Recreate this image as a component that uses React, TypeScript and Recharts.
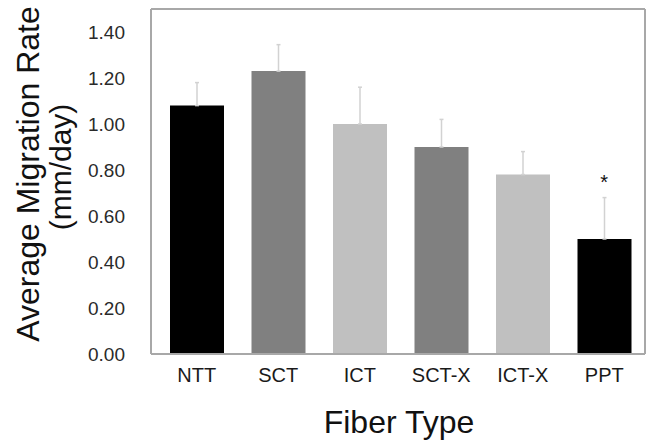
import React from "react";
import {
  BarChart,
  Bar,
  XAxis,
  YAxis,
  Cell,
  ErrorBar,
  ReferenceDot,
  Label,
} from "recharts";

const fiberTypes = ["NTT", "SCT", "ICT", "SCT-X", "ICT-X", "PPT"];
const migrationRates = [1.08, 1.23, 1.0, 0.9, 0.78, 0.5];
const upperErrors = [0.1, 0.115, 0.16, 0.12, 0.1, 0.18];
const barColors = ["#000000", "#808080", "#c0c0c0", "#808080", "#c0c0c0", "#000000"];
const yTicks = [0, 0.2, 0.4, 0.6, 0.8, 1.0, 1.2, 1.4];
const significant = ["PPT"];

const data = fiberTypes.map((type, i) => ({
  type,
  rate: migrationRates[i],
  err: [0, upperErrors[i]],
}));

const font = "'Liberation Sans', Arial, Helvetica, sans-serif";
const frame = "#a8a8a8";

const YTitle = () => (
  <g fontFamily={font} fill="#111">
    <text x={39} y={174} fontSize={32} textAnchor="middle" transform="rotate(-90, 39, 174)">
      Average Migration Rate
    </text>
    <text x={71} y={167} fontSize={30} textAnchor="middle" transform="rotate(-90, 71, 167)">
      (mm/day)
    </text>
  </g>
);

const XTitle = () => (
  <text x={399} y={433} fontSize={32} textAnchor="middle" fontFamily={font} fill="#111">
    Fiber Type
  </text>
);

export default function App() {
  return (
    <div style={{ position: "absolute", left: 0, top: 0, width: 650, height: 444, background: "#fff" }}>
      <BarChart
        width={650}
        height={444}
        data={data}
        margin={{ top: 8, right: 4, bottom: 0, left: 0 }}
      >
        <XAxis
          dataKey="type"
          height={90}
          padding={{ left: 5, right: 0 }}
          tickLine={false}
          tickMargin={8}
          axisLine={{ stroke: frame, strokeWidth: 2 }}
          tick={{ fontSize: 20, fill: "#1a1a1a", fontFamily: font }}
        >
          <Label content={<XTitle />} />
        </XAxis>
        <XAxis
          xAxisId="top"
          dataKey="type"
          orientation="top"
          height={1}
          tick={false}
          tickLine={false}
          axisLine={{ stroke: frame, strokeWidth: 2 }}
        />
        <YAxis
          width={151}
          domain={[0, 1.5]}
          ticks={yTicks}
          tickFormatter={(v: number) => v.toFixed(2)}
          tickLine={false}
          tickMargin={20}
          axisLine={{ stroke: frame, strokeWidth: 2 }}
          tick={{ fontSize: 19, fill: "#2a2a2a", fontFamily: font }}
        >
          <Label content={<YTitle />} />
        </YAxis>
        <YAxis
          yAxisId="right"
          orientation="right"
          width={1}
          domain={[0, 1.5]}
          tick={false}
          tickLine={false}
          axisLine={{ stroke: frame, strokeWidth: 2 }}
        />
        <Bar dataKey="rate" barSize={54} isAnimationActive={false}>
          {data.map((d, i) => (
            <Cell key={d.type} fill={barColors[i]} />
          ))}
          <ErrorBar dataKey="err" width={2} stroke="#d2d2d2" strokeWidth={1.5} direction="y" />
        </Bar>
        {significant.map((t) => {
          const i = fiberTypes.indexOf(t);
          return (
            <ReferenceDot
              key={t}
              x={t}
              y={migrationRates[i] + upperErrors[i] + 0.07}
              r={0}
              fill="none"
              stroke="none"
              label={{ value: "*", position: "center", fontSize: 20, fill: "#111", fontFamily: font }}
            />
          );
        })}
      </BarChart>
    </div>
  );
}
